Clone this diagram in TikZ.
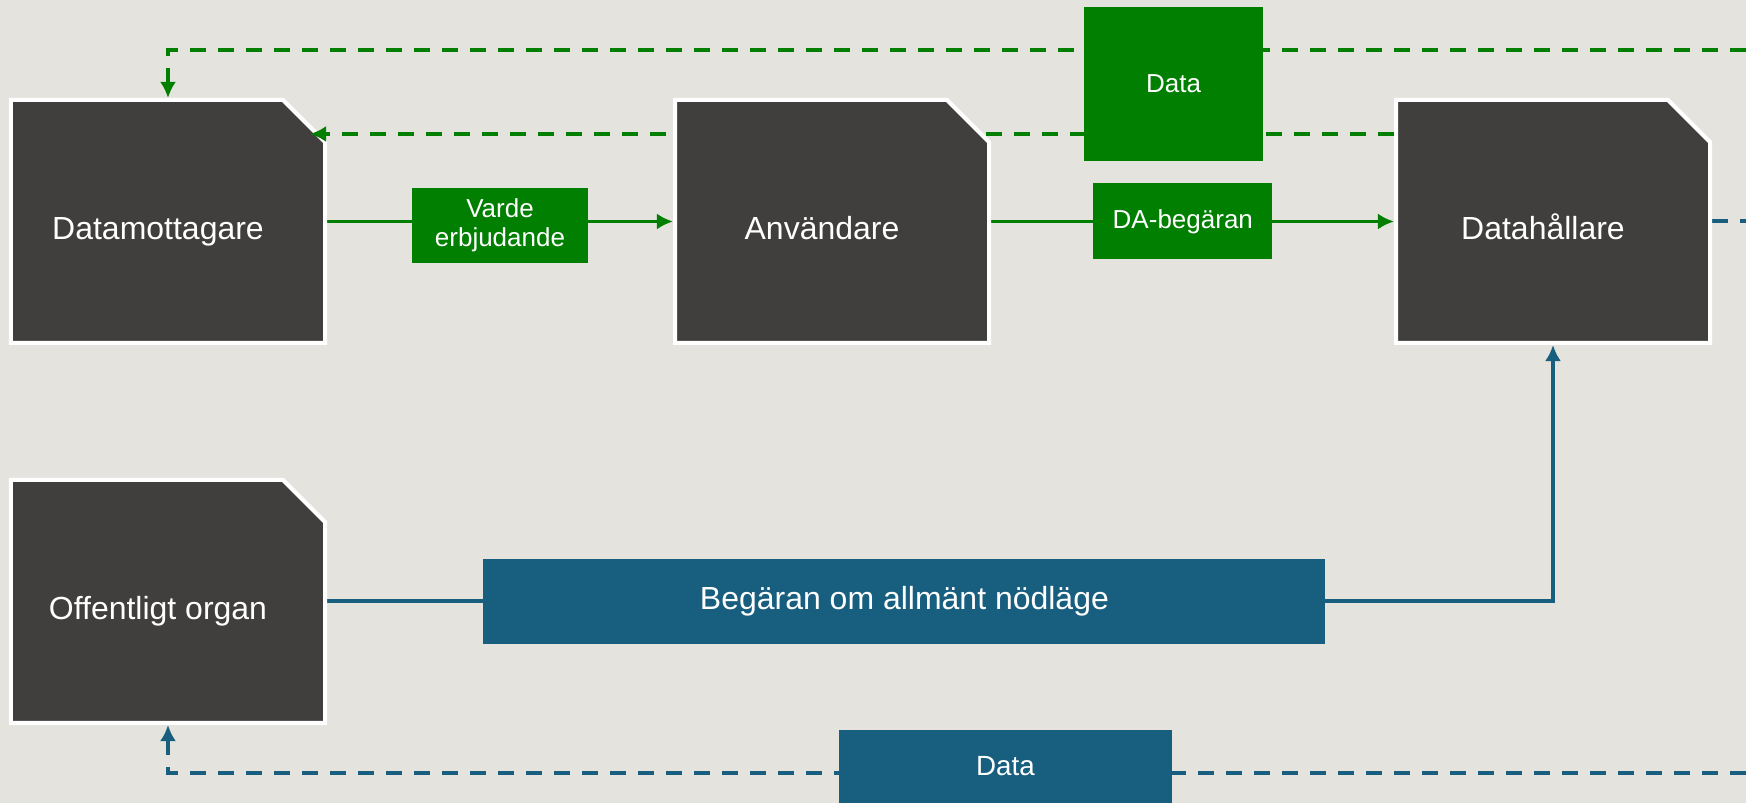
\documentclass[tikz,border=0pt]{standalone}
\usepackage{fontspec}
\setmainfont{Liberation Sans}
\usetikzlibrary{positioning, arrows.meta, shapes.misc, calc}
\pgfdeclarelayer{background}
\pgfsetlayers{background,main}
\definecolor{bgpaper}{HTML}{E4E3DE}
\definecolor{boxdark}{HTML}{403F3D}
\definecolor{flowgreen}{HTML}{007F00}
\definecolor{flowblue}{HTML}{175E7F}

\begin{document}
\begin{tikzpicture}[
	>={Latex[length=4.6pt,width=4.6pt]},
	party/.style={chamfered rectangle, chamfered rectangle corners=north east,
		chamfered rectangle xsep=0.205cm, chamfered rectangle ysep=0.215cm,
		draw=white, line width=0.04cm, fill=boxdark, text=white,
		minimum width=3.14cm, minimum height=2.43cm,
		text height=0.43cm, text depth=0.07cm,
		execute at end node={\hspace*{0.2cm}},
		font=\fontsize{9.1pt}{11pt}\selectfont},
	gbox/.style={fill=flowgreen, text=white, align=center, inner sep=0pt,
		font=\fontsize{7.4pt}{8.3pt}\selectfont},
	bbox/.style={fill=flowblue, text=white, align=center, inner sep=0pt,
		font=\fontsize{9.1pt}{11pt}\selectfont},
	gline/.style={draw=flowgreen, line width=0.035cm},
	bline/.style={draw=flowblue, line width=0.04cm},
	gdash/.style={draw=flowgreen, line width=0.04cm, dash pattern=on 0.16cm off 0.12cm},
	bdash/.style={draw=flowblue, line width=0.04cm, dash pattern=on 0.16cm off 0.12cm}
	]
	%Parties
	\node[party] (dmt) at (1.68,5.815) {Datamottagare};
	\node[party] (dh) at (15.53,5.815) {Datahållare};
	\node[party] (oo) at (1.68,2.015) {Offentligt organ};
	
	%Data back to the receiver, under the user
	\draw[gdash, ->] ([yshift=8.75mm]dh.west) -- ([xshift=-1.7mm, yshift=8.75mm]dmt.east);
	
	\node[party] (anv) at (8.32,5.815) {Användare};
	
	%Data boxes
	\node[gbox, minimum width=1.79cm, minimum height=1.54cm] (gdata) at (11.735,7.19) {Data};
	\node[bbox, minimum width=3.33cm, minimum height=0.73cm, font=\fontsize{7.9pt}{9pt}\selectfont]
		(bdata) at (10.055,0.365) {Data};
	
	\coordinate (gtop) at (17.46,7.53);
	\coordinate (bbot) at (17.46,0.30);
	
	\begin{pgfonlayer}{background}
		\fill[bgpaper] (0,0) rectangle (17.46,8.03);
		\useasboundingbox (0,0) rectangle (17.46,8.03);
		
		%Green flows
		\draw[gdash, ->] (gtop) -| (dmt.north);
		\draw[gline, ->] (dmt.east) -- node[gbox, yshift=-0.04cm, minimum width=1.76cm,
			minimum height=0.75cm] {Varde\\erbjudande} (anv.west);
		\draw[gline, ->] (anv.east) -- node[gbox, pos=0.476, minimum width=1.79cm,
			minimum height=0.76cm] {DA-begäran} (dh.west);
		
		%Blue flows
		\draw[bline, ->] (oo.east) -| node[bbox, pos=0.2355, minimum width=8.42cm,
			minimum height=0.85cm, text height=0.23cm, text depth=0.07cm]
			{Begäran om allmänt nödläge} (dh.south);
		\draw[bdash] (dh.east) -- (dh.east -| gtop);
		\draw[bdash, ->] (bbot) -| (oo.south);
	\end{pgfonlayer}
\end{tikzpicture}
\end{document}
